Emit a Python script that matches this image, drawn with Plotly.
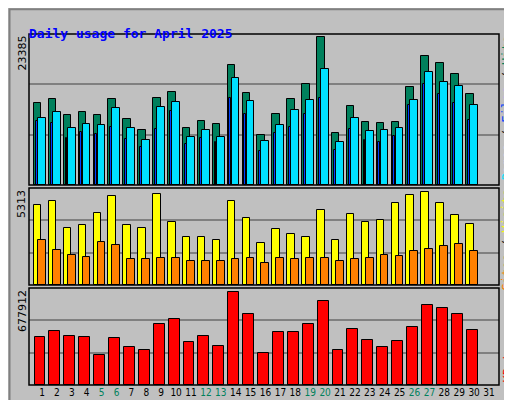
import plotly.graph_objects as go

days = list(range(1, 31))
hits = [12956,13588,11060,11534,11060,13588,10428,8690,13746,14694,9006,10112,9638,18960,14536,
        7900,11218,13588,15958,23385,8216,12482,9954,9796,9954,15484,20382,19276,17538,14378]
files = [10586,11534,9006,9638,9480,12166,9006,7110,12324,13114,7584,8690,7584,16906,13272,
         6952,9480,11850,13430,18328,6794,10586,8532,8690,9006,13430,17854,16274,15642,12640]
pages = [10112,9796,7426,8374,8058,9164,7268,6004,8848,11692,6478,7426,6794,13746,11218,
         5372,8216,9164,11218,13746,5530,8848,7110,6794,7742,12640,15958,14378,12956,10270]
visits = [4568,4796,3255,3426,4111,5082,3426,3255,5196,3597,2741,2741,2570,4796,3826,
          2398,3198,2912,2741,4283,2570,4054,3597,3712,4682,5139,5313,4682,3997,3483]
sites = [2570,1999,1713,1599,2455,2284,1485,1485,1542,1542,1370,1370,1370,1485,1542,
         1256,1542,1485,1542,1542,1370,1485,1542,1713,1656,1941,2056,2227,2341,1941]
kbytes = [349872,393606,357161,349872,218670,342583,276982,255115,444629,481074,313427,357161,
          284271,677912,517519,233248,386317,386317,444629,612276,255115,408184,328005,276982,
          320716,422762,583120,561253,517519,400895]
tick_days = list(range(1, 32))
weekends = [5, 6, 12, 13, 19, 20, 26, 27]
max_hits, max_visits, max_kb = 23385, 5313, 677912

fig = go.Figure()
line = dict(color="black", width=1)
def bar(y, color, off, w, ax):
    fig.add_trace(go.Bar(x=days, y=y, offset=off, width=w, marker=dict(color=color, line=line),
                         xaxis="x", yaxis=ax))
bar(hits, "#00805C", -0.54, 0.5, "y")
bar(files, "#00E0FF", -0.27, 0.52, "y")
bar(pages, "#0040FF", -0.42, 0.13, "y")
bar(visits, "#FFFF00", -0.54, 0.5, "y2")
bar(sites, "#FF8000", -0.27, 0.52, "y2")
bar(kbytes, "#FF0000", -0.5, 0.73, "y3")

ticktext = [f'<span style="color:{"#00805C" if d in weekends else "black"}">{d}</span>' for d in tick_days]
xr = [0.128, 31.67]
fig.update_layout(
    width=512, height=400, margin=dict(l=0, r=0, t=0, b=0), showlegend=False,
    paper_bgcolor="#C0C0C0", plot_bgcolor="#C0C0C0", barmode="overlay", bargap=0,
    font=dict(family="DejaVu Sans", size=11, color="black"),
    xaxis=dict(domain=[21/512, 491/512], range=xr, anchor="y3", tickvals=tick_days,
               ticktext=ticktext, ticks="", showgrid=False, zeroline=False, tickangle=0,
               tickfont=dict(size=10, family="DejaVu Sans Condensed"), automargin=False),
)
def yax(dom, top):
    return dict(domain=dom, range=[0, top], tickvals=[top/3, 2*top/3], showticklabels=False,
                gridcolor="#808080", gridwidth=1.5, zeroline=False, ticks="", anchor="x")
fig.update_layout(yaxis=yax([0.5575, 0.935], max_hits*151/148),
                  yaxis2=yax([0.3075, 0.55], max_visits*97/93),
                  yaxis3=yax([0.0575, 0.3], max_kb*97/93))
shapes = [dict(type="rect", xref="paper", yref="paper", x0=0.003, x1=0.997, y0=0.003, y1=0.997,
               line=dict(color="#808080", width=2))]
for d in ([0.5575, 0.935], [0.3075, 0.55], [0.0575, 0.3]):
    shapes.append(dict(type="rect", xref="paper", yref="paper", x0=21/512, x1=491/512,
                       y0=d[0], y1=d[1], line=dict(color="black", width=1.5)))
fig.update_layout(shapes=shapes)
mono = "DejaVu Sans Mono"
ann = [
    dict(x=19/512, y=1-16/400, text="<b>Daily usage for April 2025</b>", xanchor="left",
         font=dict(family=mono, size=13, color="#0000FF")),
    dict(x=14/512, y=1-26/400, text=str(max_hits), textangle=-90, yanchor="top", xanchor="center"),
    dict(x=14/512, y=1-180/400, text=str(max_visits), textangle=-90, yanchor="top", xanchor="center"),
    dict(x=14/512, y=1-280/400, text=str(max_kb), textangle=-90, yanchor="top", xanchor="center"),
    dict(x=499/512, y=1-26/400, textangle=-90, yanchor="top", xanchor="center", font=dict(family=mono, size=12),
         text='<span style="color:#00E0FF">Pages</span> / <span style="color:#0040FF">Files</span> / <span style="color:#00805C">Hits</span>'),
    dict(x=499/512, y=1-180/400, textangle=-90, yanchor="top", xanchor="center", font=dict(family=mono, size=12),
         text='<span style="color:#FF8000">Sites</span> / <span style="color:#FFFF00">Visits</span>'),
    dict(x=499/512, y=1-377/400, textangle=-90, yanchor="bottom", xanchor="center", font=dict(family=mono, size=12),
         text='<span style="color:#FF0000">KBytes</span>'),
]
for a in ann:
    a.update(xref="paper", yref="paper", showarrow=False)
fig.update_layout(annotations=ann)
fig.write_html("out.html")
